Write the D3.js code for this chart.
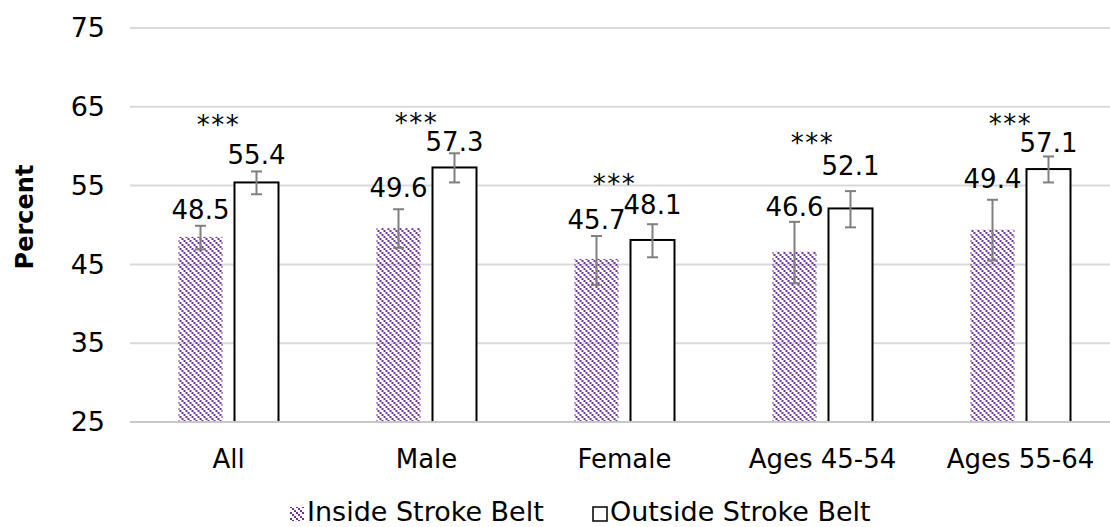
<!DOCTYPE html>
<html>
<head>
<meta charset="utf-8">
<script src="https://d3js.org/d3.v7.min.js"></script>
<style>
  body { margin: 0; background: #fff; }
  text { font-family: Verdana, "DejaVu Sans", sans-serif; fill: #000; }
</style>
</head>
<body>
<div id="chart"></div>
<script>
// categories and series
var categories = ["All", "Male", "Female", "Ages 45-54", "Ages 55-64"];
var seriesNames = ["Inside Stroke Belt", "Outside Stroke Belt"];
var insideVals = [48.5, 49.6, 45.7, 46.6, 49.4];
var outsideVals = [55.4, 57.3, 48.1, 52.1, 57.1];
// error bar ends (low, high)
var insideLow = [46.9, 47.1, 42.4, 42.6, 45.5];
var insideHigh = [49.9, 52.0, 48.6, 50.4, 53.2];
var outsideLow = [53.9, 55.4, 45.9, 49.7, 55.4];
var outsideHigh = [56.8, 59.1, 50.1, 54.3, 58.7];
// where the value labels sit (baseline, in percent units)
var insideLabelAt = [50.8, 53.5, 49.5, 51.1, 54.7];
var outsideLabelAt = [57.7, 59.4, 51.4, 56.4, 59.3];
// significance marks and their height (percent units)
var starText = ["***", "***", "***", "***", "***"];
var starAt = [63.45, 63.7, 56.0, 61.2, 63.6];
var yTicks = [25, 35, 45, 55, 65, 75];

var width = 1110, height = 527;

var svg = d3.select("#chart").append("svg")
  .attr("width", width)
  .attr("height", height);

// downward diagonal hatch, like the office pattern fill
var defs = svg.append("defs");
var pat = defs.append("pattern")
  .attr("id", "diag")
  .attr("patternUnits", "userSpaceOnUse")
  .attr("width", 6)
  .attr("height", 6);
[0, 2, 4].forEach(function(k){
  pat.append("rect").attr("x", k).attr("y", k).attr("width", 2).attr("height", 2).attr("fill", "#7030a0");
});

var y = d3.scaleLinear().domain([25, 75]).range([422, 28]);
var x0 = d3.scaleBand().domain(categories).range([129.5, 1119.5]);
var x1 = d3.scaleBand().domain(seriesNames).range([0, x0.bandwidth()])
  .paddingInner(12 / 56).paddingOuter(0.875);

// gridlines
svg.append("g").selectAll("line").data(yTicks.slice(1)).enter()
  .append("line")
  .attr("x1", 130).attr("x2", width)
  .attr("y1", function(d){ return y(d); })
  .attr("y2", function(d){ return y(d); })
  .attr("stroke", "#d9d9d9")
  .attr("stroke-width", 2);

// y axis labels
var yAxis = d3.axisLeft(y).tickValues(yTicks).tickSize(0).tickPadding(0);
var yg = svg.append("g").attr("transform", "translate(105,0)").call(yAxis);
yg.select(".domain").remove();
yg.selectAll("text").style("font-size", "27px").attr("fill", "#000");

svg.append("text")
  .attr("transform", "translate(33,217) rotate(-90)")
  .attr("text-anchor", "middle")
  .style("font-size", "24px")
  .style("font-weight", "bold")
  .text("Percent");

var groups = svg.append("g").selectAll("g").data(categories).enter()
  .append("g")
  .attr("transform", function(d){ return "translate(" + x0(d) + ",0)"; });

// inside bars
groups.append("rect")
  .attr("x", x1(seriesNames[0]))
  .attr("y", function(d, i){ return y(insideVals[i]); })
  .attr("width", x1.bandwidth())
  .attr("height", function(d, i){ return y(25) - y(insideVals[i]); })
  .attr("fill", "url(#diag)");

// outside bars
groups.append("rect")
  .attr("x", x1(seriesNames[1]))
  .attr("y", function(d, i){ return y(outsideVals[i]); })
  .attr("width", x1.bandwidth())
  .attr("height", function(d, i){ return y(25) - y(outsideVals[i]); })
  .attr("fill", "#fff")
  .attr("stroke", "#000")
  .attr("stroke-width", 2);

// x baseline
svg.append("line")
  .attr("x1", 130).attr("x2", width)
  .attr("y1", y(25)).attr("y2", y(25))
  .attr("stroke", "#c8c8c8")
  .attr("stroke-width", 2);

// error bars
function errorBars(sName, low, high) {
  var cx = x1(sName) + x1.bandwidth() / 2;
  var eb = groups.append("g").attr("stroke", "#7f7f7f").attr("stroke-width", 2);
  eb.append("line")
    .attr("x1", cx).attr("x2", cx)
    .attr("y1", function(d, i){ return y(low[i]); })
    .attr("y2", function(d, i){ return y(high[i]); });
  eb.append("line")
    .attr("x1", cx - 5.5).attr("x2", cx + 5.5)
    .attr("y1", function(d, i){ return y(low[i]); })
    .attr("y2", function(d, i){ return y(low[i]); });
  eb.append("line")
    .attr("x1", cx - 5.5).attr("x2", cx + 5.5)
    .attr("y1", function(d, i){ return y(high[i]); })
    .attr("y2", function(d, i){ return y(high[i]); });
}
errorBars(seriesNames[0], insideLow, insideHigh);
errorBars(seriesNames[1], outsideLow, outsideHigh);

// value labels
function valueLabels(sName, vals, at) {
  groups.append("text")
    .attr("x", x1(sName) + x1.bandwidth() / 2)
    .attr("y", function(d, i){ return y(at[i]); })
    .attr("text-anchor", "middle")
    .style("font-size", "26px")
    .text(function(d, i){ return vals[i].toFixed(1); });
}
valueLabels(seriesNames[0], insideVals, insideLabelAt);
valueLabels(seriesNames[1], outsideVals, outsideLabelAt);

// significance stars
groups.append("text")
  .attr("x", x0.bandwidth() / 2 - 10)
  .attr("y", function(d, i){ return y(starAt[i]) + 15; })
  .attr("text-anchor", "middle")
  .style("font-size", "26px")
  .style("letter-spacing", "1.5px")
  .text(function(d, i){ return starText[i]; });

// category labels
groups.append("text")
  .attr("x", x0.bandwidth() / 2)
  .attr("y", 468)
  .attr("text-anchor", "middle")
  .style("font-size", "26px")
  .text(function(d){ return d; });

// legend
var leg = svg.append("g");
leg.append("rect")
  .attr("x", 290).attr("y", 507).attr("width", 14).attr("height", 14)
  .attr("fill", "url(#diag)");
leg.append("text")
  .attr("x", 307).attr("y", 521)
  .style("font-size", "27px")
  .text(seriesNames[0]);
leg.append("rect")
  .attr("x", 593).attr("y", 507).attr("width", 14).attr("height", 14)
  .attr("fill", "#fff").attr("stroke", "#000").attr("stroke-width", 1.5);
leg.append("text")
  .attr("x", 610).attr("y", 521)
  .style("font-size", "27px")
  .text(seriesNames[1]);
</script>
</body>
</html>
